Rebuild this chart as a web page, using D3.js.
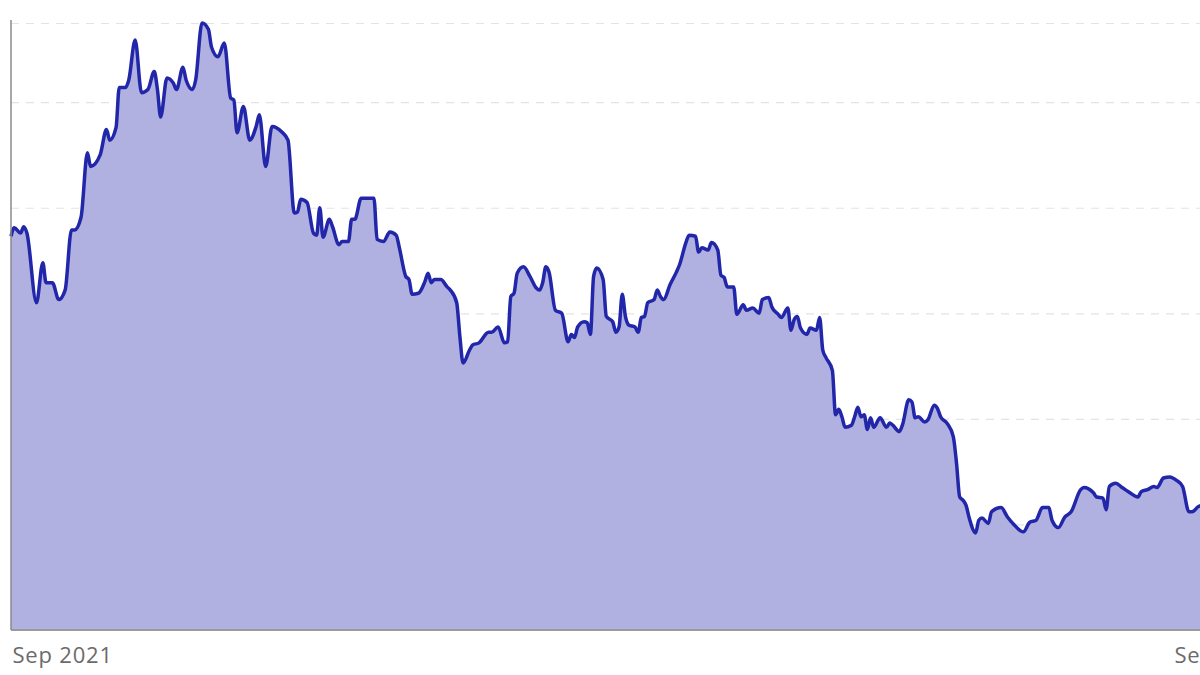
<!DOCTYPE html>
<html>
<head>
<meta charset="utf-8">
<script src="https://cdn.jsdelivr.net/npm/d3@7"></script>
<style>
  body { margin: 0; background: #fff; }
  #chartHolder svg { display: block; }
</style>
</head>
<body>
<div id="chartHolder"></div>
<script>
// days counted from the first date
const startDate = "2021-09-01";
const dayOffsets = [
  0, 1, 3, 4, 5, 8, 10, 11, 13, 15, 17, 19, 20, 22, 24, 25, 28, 30, 31, 33,
  34, 36, 37, 39, 41, 43, 45, 46, 47, 49, 51, 52, 54, 55, 57, 58, 60, 62, 63, 65,
  67, 69, 70, 71, 73, 75, 77, 78, 80, 82, 85, 87, 89, 90, 91, 93, 95, 96, 97, 98,
  100, 101, 103, 104, 106, 107, 108, 110, 112, 114, 115, 117, 119, 121, 122, 124, 125, 126, 128, 130,
  131, 132, 133, 135, 137, 138, 140, 141, 142, 144, 145, 147, 150, 151, 153, 155, 156, 157, 158, 159,
  161, 163, 165, 166, 167, 168, 169, 171, 173, 175, 176, 177, 178, 180, 181, 182, 183, 184, 186, 187,
  189, 190, 191, 192, 193, 194, 196, 197, 198, 199, 200, 202, 203, 204, 205, 207, 209, 210, 212, 213,
  215, 216, 217, 219, 220, 222, 223, 224, 225, 227, 228, 230, 231, 233, 235, 236, 238, 239, 241, 242,
  244, 245, 246, 247, 248, 250, 251, 253, 254, 255, 256, 258, 259, 260, 261, 262, 264, 265, 266, 267,
  268, 269, 270, 271, 273, 275, 276, 277, 279, 280, 282, 283, 284, 285, 287, 288, 290, 291, 292, 294,
  296, 297, 298, 299, 300, 301, 303, 304, 305, 307, 308, 311, 313, 315, 318, 320, 322, 324, 326, 327,
  329, 331, 333, 336, 337, 340, 341, 343, 344, 345, 347, 349, 351, 354, 355, 357, 359, 360, 362, 364,
  366, 368, 370, 371, 373, 376
];
const values = [
  37.3, 38.1, 37.6, 38.2, 37.6, 31.0, 34.8, 32.9, 32.9, 31.3, 32.2, 37.9, 37.9, 39.1, 45.2, 43.9, 45.0, 47.4, 46.4, 47.6,
  51.4, 51.4, 52.1, 55.9, 50.9, 51.2, 52.9, 51.2, 48.6, 52.3, 51.8, 51.2, 53.3, 52.1, 51.2, 52.1, 57.5, 56.9, 55.2, 54.3,
  55.6, 50.4, 50.2, 47.1, 49.6, 46.4, 47.7, 48.8, 43.9, 47.7, 47.2, 46.4, 39.5, 39.6, 40.8, 40.5, 37.6, 37.4, 40.0, 37.2,
  38.9, 38.2, 36.5, 36.8, 36.8, 38.9, 38.9, 40.9, 40.9, 40.9, 37.0, 36.8, 37.7, 37.4, 36.2, 33.5, 33.2, 31.8, 31.9, 33.0,
  33.8, 32.9, 33.2, 33.2, 32.5, 32.2, 31.0, 27.8, 25.3, 26.5, 27.0, 27.2, 28.2, 28.2, 28.7, 27.2, 27.3, 31.6, 31.9, 33.8,
  34.4, 33.5, 32.4, 32.2, 32.9, 34.4, 33.9, 30.3, 30.0, 27.3, 28.0, 27.7, 28.7, 29.2, 29.1, 28.0, 33.5, 34.3, 33.2, 29.7,
  29.2, 28.2, 28.7, 31.8, 29.7, 28.9, 28.7, 28.2, 29.6, 29.7, 31.0, 31.3, 32.2, 31.6, 31.3, 32.7, 33.9, 34.6, 36.7, 37.4,
  37.3, 35.8, 36.2, 36.0, 36.7, 36.0, 33.6, 33.4, 32.5, 32.5, 29.9, 30.8, 30.3, 30.5, 30.0, 31.3, 31.5, 30.6, 29.9, 29.6,
  30.5, 28.4, 29.4, 29.7, 28.6, 28.0, 28.6, 28.4, 29.6, 26.5, 25.8, 24.6, 20.4, 20.9, 20.2, 19.2, 19.4, 20.2, 21.1, 20.2,
  20.4, 19.0, 20.1, 19.2, 20.1, 19.2, 19.6, 19.4, 18.8, 19.4, 21.8, 21.6, 20.1, 20.2, 19.7, 19.9, 21.3, 21.0, 20.2, 19.6,
  18.3, 15.8, 12.6, 12.3, 11.8, 10.6, 9.2, 10.4, 10.6, 10.1, 11.2, 11.6, 10.7, 10.0, 9.3, 10.2, 10.4, 11.6, 11.6, 10.4,
  9.7, 10.7, 11.2, 13.3, 13.5, 13.0, 12.6, 12.5, 11.4, 13.6, 13.9, 13.5, 13.1, 12.6, 13.1, 13.3, 13.6, 13.5, 14.4, 14.5,
  14.2, 13.6, 11.2, 11.2, 11.7, 11.9
];
const gridValues = [10, 20, 30, 40, 50, 57.5];
const xTickLabels = ["2021-09-01", "2022-09-01"];

function GetChart(){
    const width = 1200;
    const height = 675;
    const left = 11, top = 23, bottom = 630;
    const svg = d3.select("#chartHolder")
        .append("svg")
        .attr("width", width)
        .attr("height", height);

    const parse = d3.timeParse("%Y-%m-%d");
    const start = parse(startDate);
    const data = dayOffsets.map((d, i) => ({date: d3.timeDay.offset(start, d), value: values[i]}));
    const tickDates = xTickLabels.map(parse);

    const xScale = d3.scaleTime()
        .domain(tickDates)
        .range([left, 1173]);
    const yScale = d3.scaleLinear()
        .domain([0, 57.5])
        .range([bottom, top]);

    // dashed grid
    const grid = d3.axisLeft(yScale)
        .tickValues(gridValues)
        .tickSize(-(width - left))
        .tickFormat("");
    svg.append("g")
        .attr("transform", `translate(${left},0)`)
        .call(grid)
        .call(g => g.select(".domain").remove())
        .call(g => g.selectAll("line")
            .attr("stroke", "#e3e3e3")
            .attr("stroke-width", 1.2)
            .attr("stroke-dasharray", "8,7"));

    // area + line
    const area = d3.area()
        .curve(d3.curveMonotoneX)
        .x(d => xScale(d.date))
        .y0(yScale(0))
        .y1(d => yScale(d.value));
    const line = d3.line()
        .curve(d3.curveMonotoneX)
        .x(d => xScale(d.date))
        .y(d => yScale(d.value));
    svg.append("path")
        .datum(data)
        .attr("d", area)
        .attr("fill", "#b0b0e1");
    svg.append("path")
        .datum(data)
        .attr("d", line)
        .attr("fill", "none")
        .attr("stroke", "#2226a9")
        .attr("stroke-width", 3.5)
        .attr("stroke-linejoin", "round");

    // axes
    svg.append("line")
        .attr("x1", left).attr("x2", width)
        .attr("y1", yScale(0)).attr("y2", yScale(0))
        .attr("stroke", "#9a9a9a")
        .attr("stroke-width", 2);
    svg.append("line")
        .attr("x1", left).attr("x2", left)
        .attr("y1", yScale(57.5) - 3).attr("y2", yScale(0))
        .attr("stroke", "#8a8a8a")
        .attr("stroke-width", 1.5);

    const xAxis = d3.axisBottom(xScale)
        .tickValues(tickDates)
        .tickSize(0)
        .tickPadding(17)
        .tickFormat(d3.timeFormat("%b %Y"));
    svg.append("g")
        .attr("transform", `translate(0,${bottom})`)
        .call(xAxis)
        .call(g => g.select(".domain").remove())
        .call(g => g.selectAll("text")
            .attr("text-anchor", "start")
            .attr("x", 1)
            .style("font-family", "'Open Sans', sans-serif")
            .style("font-size", "22px")
            .style("letter-spacing", "0.8px")
            .style("fill", "#6b6b6b"));
}
GetChart();
</script>
</body>
</html>
